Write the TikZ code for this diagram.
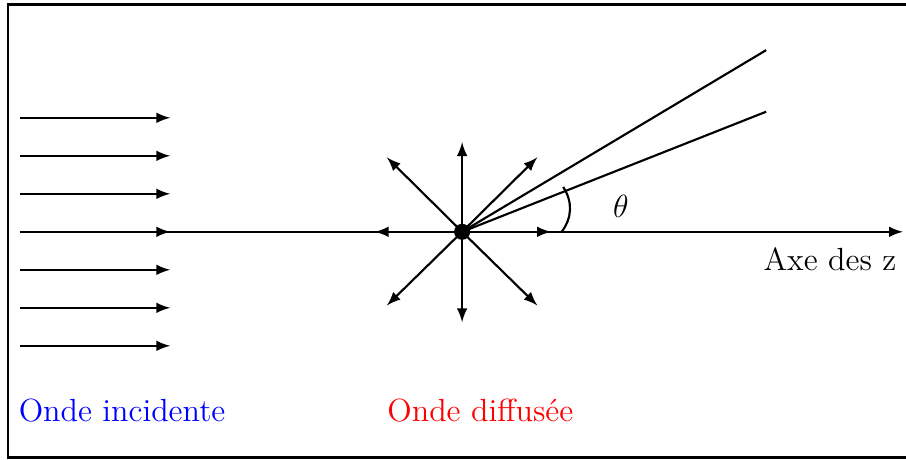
\documentclass[tikz,border=0pt]{standalone}
\usepackage{xcolor}
\usepackage{tikz}
\usetikzlibrary{arrows,positioning,calc}

\begin{document}
\begin{tikzpicture}[
            every node/.style={font=\large},
            fl/.style={-latex, thick},
            ln/.style={thick},
            dot/.style={circle, fill=black, inner sep=0pt, minimum size=6pt},
        ]
            \clip (-6.08,-2.99) rectangle (5.84,3.05);
            % cadre (coupe a droite)
            \draw[ln] (6.2,2.99) -- (-5.97,2.99) -- (-5.97,-2.97) -- (6.2,-2.97);

            % onde incidente
            \foreach \k/\y in {a/1.5,b/1,c/0.5,d/0,e/-0.5,f/-1,g/-1.5} {
                \coordinate (in\k) at (-5.82,\y);
                \coordinate (out\k) at (-3.84,\y);
                \draw[fl] (in\k) -- (out\k);
            }

            % axe des z
            \coordinate (zd) at (-5.82,0);
            \coordinate (zf) at (5.8,0);
            \draw[fl] (zd) -- (zf);
            \node[anchor=base east, inner sep=0pt] (zlab) at (5.72,-0.51) {Axe des z};

            % centre diffuseur
            \node[dot] (src) at (0,0) {};
            \coordinate (pn) at (0,1.18);
            \coordinate (ps) at (0,-1.19);
            \coordinate (pe) at (1.17,0);
            \coordinate (pw) at (-1.15,0);
            \coordinate (pne) at (0.99,0.98);
            \coordinate (pnw) at (-0.99,0.98);
            \coordinate (pse) at (0.99,-0.97);
            \coordinate (psw) at (-0.99,-0.97);
            \foreach \p in {pn,ps,pe,pw,pne,pnw,pse,psw}
                \draw[fl] (src.center) -- (\p);

            % cone de diffusion
            \coordinate (c1) at (4,2.39);
            \coordinate (c2) at (4,1.58);
            \draw[ln] (src.center) -- (c1);
            \draw[ln] (src.center) -- (c2);

            % angle
            \coordinate (th0) at (1.31,0);
            \coordinate (th1) at (1.33,0.59);
            \draw[ln] (th0) to[bend right=35] (th1);
            \node (theta) at (2.09,0.33) {$\theta$};

            % legendes
            \node[anchor=base west, inner sep=0pt, text=blue] (inc) at (-5.84,-2.5) {Onde incidente};
            \node[anchor=base west, inner sep=0pt, text=red] (dif) at (-0.99,-2.5) {Onde diffusée};
        \end{tikzpicture}
\end{document}
